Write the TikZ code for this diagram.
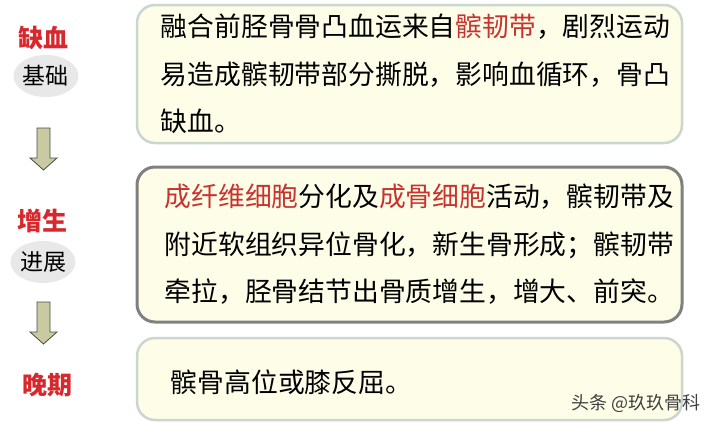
\documentclass[tikz,border=0pt]{standalone}
\usepackage{fontspec}
\usetikzlibrary{positioning,shapes.geometric}
\newfontfamily\cjk{Noto Sans CJK SC}
\definecolor{rojo}{HTML}{D7282D}
\definecolor{rojot}{HTML}{C8332E}
\definecolor{crema}{HTML}{FDFDE8}
\definecolor{bordeclaro}{HTML}{CAD7CE}
\definecolor{bordeosc}{HTML}{808080}
\definecolor{caqui}{HTML}{C9C9A2}
\tikzset{
  caja/.style={draw=bordeclaro, line width=2.5pt, fill=crema, rounded corners=18pt, minimum width=545pt, inner sep=0pt},
  texto/.style={font=\cjk\fontsize{26.8pt}{47.5pt}\selectfont, align=left, inner sep=0pt},
  etiqueta/.style={font=\cjk\bfseries\fontsize{25pt}{25pt}\selectfont, text=rojo, inner sep=0pt},
  nube/.style={ellipse, fill=gray!18, minimum width=48pt, minimum height=42pt, inner sep=0pt, font=\cjk\fontsize{23pt}{23pt}\selectfont},
  flecha/.style={draw=black!70, fill=caqui, line width=0.8pt}
}
\begin{document}
\begin{tikzpicture}[x=1pt,y=-1pt]
\useasboundingbox (0,0) rectangle (707,423);
% cajas
\node[caja, minimum height=138pt] (c1) at (409.5,74) {};
\node[caja, draw=bordeosc, line width=3pt, minimum height=155pt] (c2) at (409.5,244.5) {};
\node[caja, minimum height=82pt] (c3) at (409.5,379) {};
% textos de las cajas
\node[texto, right=25pt of c1.west] (t1) {融合前胫骨骨凸血运来自\textcolor{rojot}{髌韧带}，剧烈运动\\易造成髌韧带部分撕脱，影响血循环，骨凸\\缺血。};
\node[texto, right=29pt of c2.west] (t2) {\textcolor{rojot}{成纤维细胞}分化及\textcolor{rojot}{成骨细胞}活动，髌韧带及\\附近软组织异位骨化，新生骨形成；髌韧带\\牵拉，胫骨结节出骨质增生，增大、前突。};
\node[texto, right=35pt of c3.west, yshift=-3pt] (t3) {髌骨高位或膝反屈。};
% etapas
\node[etiqueta] (q1) at (43,38) {缺血};
\node[nube] (b1) at (46,76) {基础};
\node[etiqueta] (z1) at (42,221) {增生};
\node[nube] (b2) at (43,262) {进展};
\node[etiqueta] (w1) at (47,385) {晚期};
% flechas
\coordinate (f1) at (43.5,128);
\coordinate (f2) at (43.5,302);
\foreach \f in {f1,f2}
\draw[flecha] (\f) ++(-6.5,0) -- ++(13,0) -- ++(0,30) -- ++(7,0) -- ++(-13.5,12) -- ++(-13.5,-12) -- ++(7,0) -- cycle;
% marca
\node[font=\cjk\fontsize{18pt}{18pt}\selectfont, text=black!75, anchor=east, inner sep=0pt] (marca) at (701,403) {头条 @玖玖骨科};
\end{tikzpicture}
\end{document}
